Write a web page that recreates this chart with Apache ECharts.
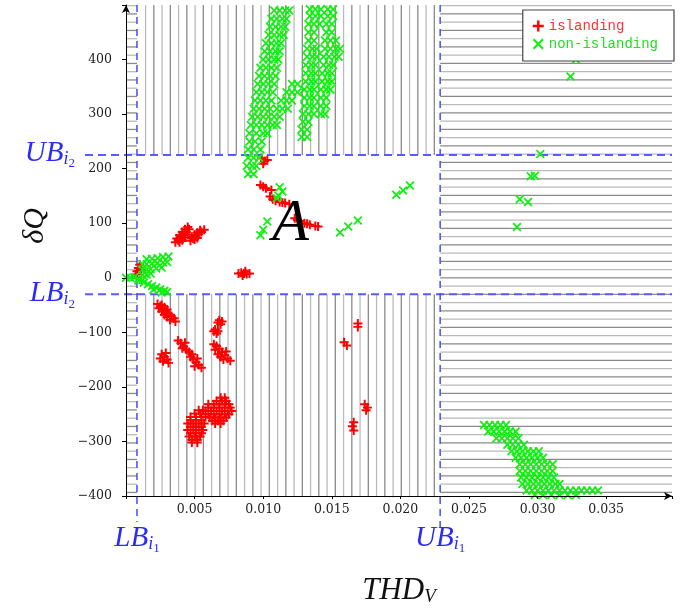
<!DOCTYPE html>
<html lang="en">
<head>
<meta charset="utf-8">
<title>THD_V vs dQ</title>
<script src="https://cdn.jsdelivr.net/npm/echarts@6/dist/echarts.min.js"></script>
<style>
  html, body { margin: 0; padding: 0; background: #fff; }
  #chart { width: 694px; height: 614px; }
</style>
</head>
<body>
<div id="chart"></div>
<script>
// axis extents and detection bounds
var X_MAX = 0.0398, Y_MIN = -400, Y_MAX = 500;
var LB_I1 = 0.0008, UB_I1 = 0.0229;
var LB_I2 = -30, UB_I2 = 225;
var xTickStep = 0.005, yTickStep = 100;

// hatched regions: [x0, x1, y0, y1, 0 = vertical lines / 1 = horizontal lines]
var hatchRegions = [
  [LB_I1, UB_I1, UB_I2, Y_MAX, 0],
  [LB_I1, UB_I1, Y_MIN, LB_I2, 0],
  [0, LB_I1, Y_MIN, Y_MAX, 1],
  [UB_I1, X_MAX, Y_MIN, Y_MAX, 1]
];

// label "A" position
var regionLabel = [0.0120, 98];

var islanding = [
  [0.0007,6],[0.0008,12],[0.0009,18],[0.0010,24],[0.0008,0],[0.0011,14],
  [0.0099,219],[0.0101,214],[0.0100,209],[0.0103,216],
  [0.0098,170],[0.0100,167],[0.0102,164],[0.0106,161],[0.0105,149],[0.0107,144],[0.0109,141],
  [0.0112,139],[0.0114,138],[0.0116,137],[0.0119,135],
  [0.0123,109],[0.0125,106],[0.0127,104],[0.0130,100],[0.0132,99],[0.0134,97],[0.0138,95],[0.0140,94],
  [0.0036,65],[0.0038,69],[0.0040,74],[0.0042,79],[0.0044,84],[0.0046,89],[0.0037,72],[0.0039,78],
  [0.0041,84],[0.0043,89],[0.0045,93],[0.0039,65],[0.0041,69],[0.0043,74],[0.0045,79],
  [0.0047,68],[0.0049,72],[0.0051,76],[0.0053,80],[0.0055,84],[0.0057,88],[0.0048,75],[0.0050,79],
  [0.0052,83],[0.0054,87],[0.0050,70],[0.0052,73],
  [0.0082,8],[0.0084,9],[0.0086,8],[0.0088,7],[0.0090,8],[0.0085,4],[0.0087,12],
  [0.0023,-48],[0.0025,-52],[0.0027,-58],[0.0029,-62],[0.0031,-66],[0.0033,-70],[0.0035,-74],[0.0036,-80],
  [0.0024,-56],[0.0026,-62],[0.0028,-68],[0.0030,-72],[0.0032,-77],[0.0026,-50],[0.0028,-54],[0.0030,-58],
  [0.0026,-140],[0.0028,-145],[0.0030,-150],[0.0027,-153],[0.0029,-138],[0.0031,-156],[0.0025,-148],
  [0.0038,-115],[0.0040,-120],[0.0042,-126],[0.0044,-132],[0.0046,-136],[0.0048,-140],[0.0041,-129],[0.0043,-119],
  [0.0047,-145],[0.0049,-150],[0.0051,-155],[0.0053,-160],[0.0055,-165],[0.0050,-162],[0.0052,-148],
  [0.0068,-78],[0.0069,-85],[0.0067,-82],[0.0070,-80],
  [0.0065,-95],[0.0066,-102],[0.0064,-98],[0.0067,-98],
  [0.0064,-122],[0.0066,-125],[0.0068,-130],[0.0070,-136],[0.0072,-142],[0.0074,-148],[0.0076,-152],
  [0.0067,-140],[0.0069,-145],[0.0071,-150],[0.0065,-132],[0.0073,-135],
  [0.0053,-243],[0.0056,-243],
  [0.0050,-249],[0.0054,-249],
  [0.0047,-255],[0.0051,-255],[0.0055,-255],[0.0058,-255],
  [0.0047,-261],[0.0051,-261],[0.0055,-261],
  [0.0045,-267],[0.0049,-267],[0.0053,-267],[0.0057,-267],
  [0.0047,-273],[0.0051,-273],[0.0055,-273],
  [0.0045,-279],[0.0049,-279],[0.0053,-279],[0.0056,-279],
  [0.0047,-285],[0.0051,-285],[0.0055,-285],
  [0.0046,-291],[0.0050,-291],[0.0054,-291],
  [0.0048,-297],[0.0052,-297],
  [0.0048,-302],[0.0052,-302],
  [0.0069,-220],[0.0072,-220],
  [0.0066,-226],[0.0070,-226],[0.0073,-226],
  [0.0060,-232],[0.0064,-232],[0.0068,-232],[0.0072,-232],[0.0075,-232],
  [0.0060,-238],[0.0064,-238],[0.0068,-238],[0.0072,-238],[0.0076,-238],
  [0.0058,-244],[0.0062,-244],[0.0066,-244],[0.0070,-244],[0.0074,-244],[0.0077,-244],
  [0.0060,-250],[0.0064,-250],[0.0068,-250],[0.0072,-250],[0.0075,-250],
  [0.0061,-256],[0.0065,-256],[0.0069,-256],[0.0073,-256],
  [0.0063,-262],[0.0067,-262],[0.0071,-262],
  [0.0065,-267],[0.0069,-267],
  [0.0159,-118],[0.0161,-124],[0.0169,-84],[0.0169,-90],
  [0.0166,-265],[0.0165,-272],[0.0166,-280],
  [0.0174,-232],[0.0175,-243],[0.0176,-238]
];

var nonIslanding = [
  // near the origin
  [0.0000,0],[0.0003,0],[0.0006,1],[0.0009,-2],[0.0009,-5],[0.0012,-4],
  [0.0012,5],[0.0015,6],[0.0018,8],
  [0.0012,15],[0.0015,15],[0.0018,16],[0.0022,17],[0.0026,19],
  [0.0012,25],[0.0015,25],[0.0019,26],[0.0023,27],[0.0027,28],[0.0030,29],
  [0.0015,34],[0.0019,35],[0.0023,36],[0.0027,38],[0.0031,39],
  [0.0013,-9],[0.0016,-12],[0.0019,-15],[0.0022,-18],[0.0025,-21],[0.0028,-24],[0.0030,-26],[0.0020,-22],[0.0026,-27],
  // left rising band
  [0.0089,190],[0.0093,190],
  [0.0088,205],[0.0092,205],[0.0095,205],
  [0.0089,220],[0.0093,220],[0.0097,220],
  [0.0089,235],[0.0093,235],[0.0098,235],
  [0.0090,250],[0.0094,250],[0.0099,250],
  [0.0090,265],[0.0095,265],[0.0100,265],[0.0103,265],
  [0.0091,280],[0.0095,280],[0.0099,280],[0.0103,280],
  [0.0092,295],[0.0096,295],[0.0100,295],[0.0104,295],
  [0.0093,310],[0.0097,310],[0.0101,310],[0.0105,310],
  [0.0094,325],[0.0098,325],[0.0102,325],[0.0106,325],
  [0.0095,340],[0.0099,340],[0.0103,340],[0.0107,340],
  [0.0096,355],[0.0100,355],[0.0104,355],[0.0108,355],
  [0.0097,370],[0.0101,370],[0.0105,370],[0.0109,370],
  [0.0098,385],[0.0102,385],[0.0106,385],[0.0110,385],
  [0.0100,400],[0.0104,400],[0.0108,400],[0.0111,400],
  [0.0101,415],[0.0105,415],[0.0109,415],[0.0112,415],
  [0.0102,430],[0.0106,430],[0.0110,430],[0.0113,430],
  [0.0104,445],[0.0108,445],[0.0112,445],[0.0115,445],
  [0.0105,460],[0.0109,460],[0.0113,460],[0.0116,460],
  [0.0106,475],[0.0110,475],[0.0114,475],[0.0117,475],
  [0.0108,490],[0.0112,490],[0.0116,490],[0.0119,490],
  // bridge
  [0.0107,280],[0.0110,280],[0.0108,295],[0.0112,295],
  [0.0110,310],[0.0114,310],[0.0118,310],
  [0.0113,325],[0.0117,325],[0.0121,325],
  [0.0117,340],[0.0121,340],[0.0125,340],
  [0.0121,355],[0.0125,355],
  // right band, left part
  [0.0128,258],[0.0132,258],[0.0128,272],[0.0132,272],[0.0129,286],[0.0133,286],
  [0.0129,300],[0.0133,300],[0.0137,300],
  [0.0130,315],[0.0134,315],[0.0137,315],
  [0.0130,330],[0.0134,330],[0.0137,330],
  [0.0130,345],[0.0134,345],[0.0137,345],
  [0.0131,360],[0.0135,360],[0.0138,360],
  [0.0131,375],[0.0135,375],[0.0138,375],
  [0.0131,390],[0.0135,390],[0.0138,390],
  [0.0132,405],[0.0136,405],[0.0139,405],
  [0.0132,420],[0.0136,420],[0.0139,420],
  [0.0133,435],[0.0137,435],[0.0133,450],[0.0137,450],
  [0.0133,465],[0.0137,465],[0.0141,465],
  [0.0134,480],[0.0138,480],[0.0142,480],
  [0.0134,492],[0.0138,492],[0.0142,492],
  // right band, right part
  [0.0142,300],[0.0145,300],[0.0142,315],[0.0146,315],
  [0.0142,330],[0.0146,330],
  [0.0142,345],[0.0146,345],[0.0149,345],
  [0.0143,360],[0.0147,360],[0.0150,360],
  [0.0143,375],[0.0147,375],[0.0150,375],
  [0.0144,390],[0.0148,390],[0.0151,390],
  [0.0144,405],[0.0148,405],[0.0152,405],[0.0155,405],
  [0.0145,420],[0.0149,420],[0.0153,420],[0.0156,420],
  [0.0145,435],[0.0149,435],[0.0153,435],
  [0.0146,450],[0.0150,450],[0.0146,465],[0.0150,465],
  [0.0147,480],[0.0151,480],[0.0147,492],[0.0151,492],
  // scattered inside region A
  [0.0112,166],[0.0114,158],[0.0111,151],[0.0110,146],
  [0.0098,78],[0.0100,88],[0.0103,103],
  [0.0156,83],[0.0162,94],[0.0169,105],
  [0.0197,152],[0.0202,160],[0.0207,169],
  // right of UB_i1
  [0.0328,400],[0.0324,369],[0.0302,227],[0.0295,186],[0.0298,187],
  [0.0287,144],[0.0293,139],[0.0285,93],
  // lower right cluster
  [0.0261,-270],[0.0265,-270],[0.0269,-270],[0.0273,-270],[0.0277,-270],
  [0.0264,-282],[0.0268,-282],[0.0272,-282],[0.0276,-282],[0.0280,-282],[0.0284,-282],
  [0.0270,-294],[0.0274,-294],[0.0278,-294],[0.0282,-294],[0.0286,-294],
  [0.0278,-306],[0.0282,-306],[0.0286,-306],[0.0290,-306],
  [0.0281,-318],[0.0285,-318],[0.0289,-318],[0.0293,-318],[0.0297,-318],[0.0301,-318],
  [0.0284,-330],[0.0288,-330],[0.0292,-330],[0.0296,-330],[0.0300,-330],[0.0304,-330],
  [0.0287,-342],[0.0291,-342],[0.0295,-342],[0.0299,-342],[0.0303,-342],[0.0307,-342],[0.0311,-342],
  [0.0287,-354],[0.0291,-354],[0.0295,-354],[0.0299,-354],[0.0303,-354],[0.0307,-354],[0.0311,-354],
  [0.0288,-366],[0.0292,-366],[0.0296,-366],[0.0300,-366],[0.0304,-366],[0.0308,-366],[0.0312,-366],
  [0.0289,-378],[0.0293,-378],[0.0297,-378],[0.0301,-378],[0.0305,-378],[0.0309,-378],[0.0313,-378],[0.0316,-378],
  [0.0292,-390],[0.0296,-390],[0.0300,-390],[0.0304,-390],[0.0308,-390],[0.0312,-390],[0.0316,-390],
  [0.0320,-390],[0.0324,-390],[0.0328,-390],[0.0332,-390],[0.0336,-390],[0.0340,-390],[0.0344,-390],
  [0.0298,-398],[0.0304,-398],[0.0310,-398],[0.0316,-398],[0.0322,-398],[0.0328,-398]
];

var PLUS = 'path://M0,3.9H10V6.1H0Z M3.9,0H6.1V10H3.9Z';
var CROSS = 'path://M1.4,0L5,3.6L8.6,0L10,1.4L6.4,5L10,8.6L8.6,10L5,6.4L1.4,10L0,8.6L3.6,5L0,1.4Z';

var chart = echarts.init(document.getElementById('chart'));

function renderHatch(params, api) {
  var a = api.coord([api.value(0), api.value(3)]);
  var b = api.coord([api.value(1), api.value(2)]);
  var shades = ['#bababa', '#8a8a8a'];
  var step = 8.25, kids = [], k = 0, t;
  if (api.value(4) === 0) {
    for (t = a[0] + 8.6; t < b[0] - 1; t += step) {
      kids.push({ type: 'line', shape: { x1: t, y1: a[1], x2: t, y2: b[1] },
        style: { stroke: shades[k++ % 2], lineWidth: 1.3 } });
    }
  } else {
    for (t = a[1] + 0.7; t < b[1] - 1; t += step) {
      kids.push({ type: 'line', shape: { x1: a[0], y1: t, x2: b[0], y2: t },
        style: { stroke: shades[k++ % 2], lineWidth: 1.3 } });
    }
  }
  return { type: 'group', children: kids };
}

var option = {
  animation: false,
  grid: { left: 126, right: 22, top: 5, bottom: 118 },
  legend: {
    data: [
      { name: 'islanding', icon: PLUS, textStyle: { color: '#ff3333' } },
      { name: 'non-islanding', icon: CROSS, textStyle: { color: '#22dd22' } }
    ],
    orient: 'vertical', right: 20, top: 10,
    backgroundColor: '#fff', borderColor: '#444', borderWidth: 1.2,
    padding: [9, 16, 10, 10], itemGap: 4, itemWidth: 11, itemHeight: 12,
    selectedMode: false,
    textStyle: { fontFamily: 'Liberation Mono', fontSize: 14 }
  },
  xAxis: {
    type: 'value', min: 0, max: X_MAX, interval: xTickStep, z: 4,
    axisLine: { onZero: false, symbol: ['none', 'arrow'], symbolSize: [6, 8],
      lineStyle: { color: '#000', width: 1 } },
    axisTick: { length: 3, lineStyle: { color: '#000' } },
    splitLine: { show: false },
    axisLabel: {
      margin: 7, color: '#222', fontFamily: 'DejaVu Serif', fontSize: 12.5,
      formatter: function (v) {
        var r = v / xTickStep;
        if (v === 0 || Math.abs(r - Math.round(r)) > 1e-6) return '';
        return v.toFixed(3);
      }
    }
  },
  yAxis: {
    type: 'value', min: Y_MIN, max: Y_MAX, interval: yTickStep, z: 4,
    axisLine: { onZero: false, symbol: ['none', 'arrow'], symbolSize: [6, 8],
      lineStyle: { color: '#000', width: 1 } },
    axisTick: { length: 4, lineStyle: { color: '#000' } },
    splitLine: { show: false },
    axisLabel: {
      margin: 14, color: '#222', fontFamily: 'DejaVu Serif', fontSize: 12.5,
      formatter: function (v) {
        if (v >= Y_MAX) return '';
        return v < 0 ? '\u2212' + (-v) : String(v);
      }
    }
  },
  series: [
    {
      name: 'hatch', type: 'custom', renderItem: renderHatch, data: hatchRegions,
      encode: { x: [0, 1], y: [2, 3] }, z: 1, silent: true
    },
    {
      name: 'islanding', type: 'scatter', data: islanding, symbol: PLUS, symbolSize: 9,
      itemStyle: { color: '#ff0000', opacity: 1 }, z: 3, clip: false
    },
    {
      name: 'non-islanding', type: 'scatter', data: nonIslanding, symbol: CROSS, symbolSize: 9,
      itemStyle: { color: '#11ee11', opacity: 1 }, z: 3, clip: false
    }
  ]
};
chart.setOption(option);

// annotations placed from data coordinates
function px(x, y) { return chart.convertToPixel({ gridIndex: 0 }, [x, y]); }

var SERIF = 'Liberation Serif';
function mathText(main, sub, subsub, x, y, align, size, color) {
  var text = '{m|' + main + '}{s|' + sub + '}' + (subsub ? '{t|' + subsub + '}' : '');
  return {
    type: 'text', x: x, y: y, z: 6,
    style: {
      text: text, align: align, verticalAlign: 'middle',
      rich: {
        m: { fontFamily: SERIF, fontStyle: 'italic', fontSize: size, lineHeight: 44, fill: color },
        s: { fontFamily: SERIF, fontStyle: 'italic', fontSize: Math.round(size * 0.62), lineHeight: 44,
             padding: [Math.round(size * 0.4), 0, 0, 0], fill: color },
        t: { fontFamily: SERIF, fontSize: Math.round(size * 0.45), lineHeight: 44,
             padding: [Math.round(size * 0.75), 0, 0, 0], fill: color }
      }
    }
  };
}

var topLeft = px(0, Y_MAX), botRight = px(X_MAX, Y_MIN);
var pLB1 = px(LB_I1, 0)[0], pUB1 = px(UB_I1, 0)[0];
var pLB2 = px(0, LB_I2)[1], pUB2 = px(0, UB_I2)[1];
var pA = px(regionLabel[0], regionLabel[1]);
var BLUE = '#2a2aff';
var dashStyle = { stroke: '#5a5aff', lineWidth: 2, lineDash: [8, 5] };

chart.setOption({
  graphic: [
    { type: 'line', z: 2, shape: { x1: 85, y1: pUB2, x2: botRight[0], y2: pUB2 }, style: dashStyle },
    { type: 'line', z: 2, shape: { x1: 85, y1: pLB2, x2: botRight[0], y2: pLB2 }, style: dashStyle },
    { type: 'line', z: 2, shape: { x1: pLB1, y1: topLeft[1], x2: pLB1, y2: 522 },
      style: { stroke: '#4a4aff', lineWidth: 1.5, lineDash: [7, 5] } },
    { type: 'line', z: 2, shape: { x1: pUB1, y1: topLeft[1], x2: pUB1, y2: 528 },
      style: { stroke: '#4a4aff', lineWidth: 1.5, lineDash: [7, 5] } },
    mathText('UB', 'i', '2', 75, pUB2 - 2, 'right', 29, BLUE),
    mathText('LB', 'i', '2', 75, pLB2 - 1, 'right', 29, BLUE),
    mathText('LB', 'i', '1', pLB1, 538, 'center', 29, BLUE),
    mathText('UB', 'i', '1', pUB1, 538, 'center', 29, BLUE),
    mathText('THD', 'V', '', (topLeft[0] + botRight[0]) / 2, 591, 'center', 31, '#111'),
    {
      type: 'text', x: 35, y: 226, rotation: Math.PI / 2, z: 6,
      style: { text: '\u03b4Q', font: 'italic 30px "Liberation Serif"', fill: '#111',
        align: 'center', verticalAlign: 'middle' }
    },
    {
      type: 'text', x: pA[0], y: pA[1], z: 6,
      style: { text: 'A', font: 'italic 60px "Liberation Serif"', fill: '#000',
        align: 'center', verticalAlign: 'middle' }
    }
  ]
});

window.addEventListener('resize', function () { chart.resize(); });
</script>
</body>
</html>
